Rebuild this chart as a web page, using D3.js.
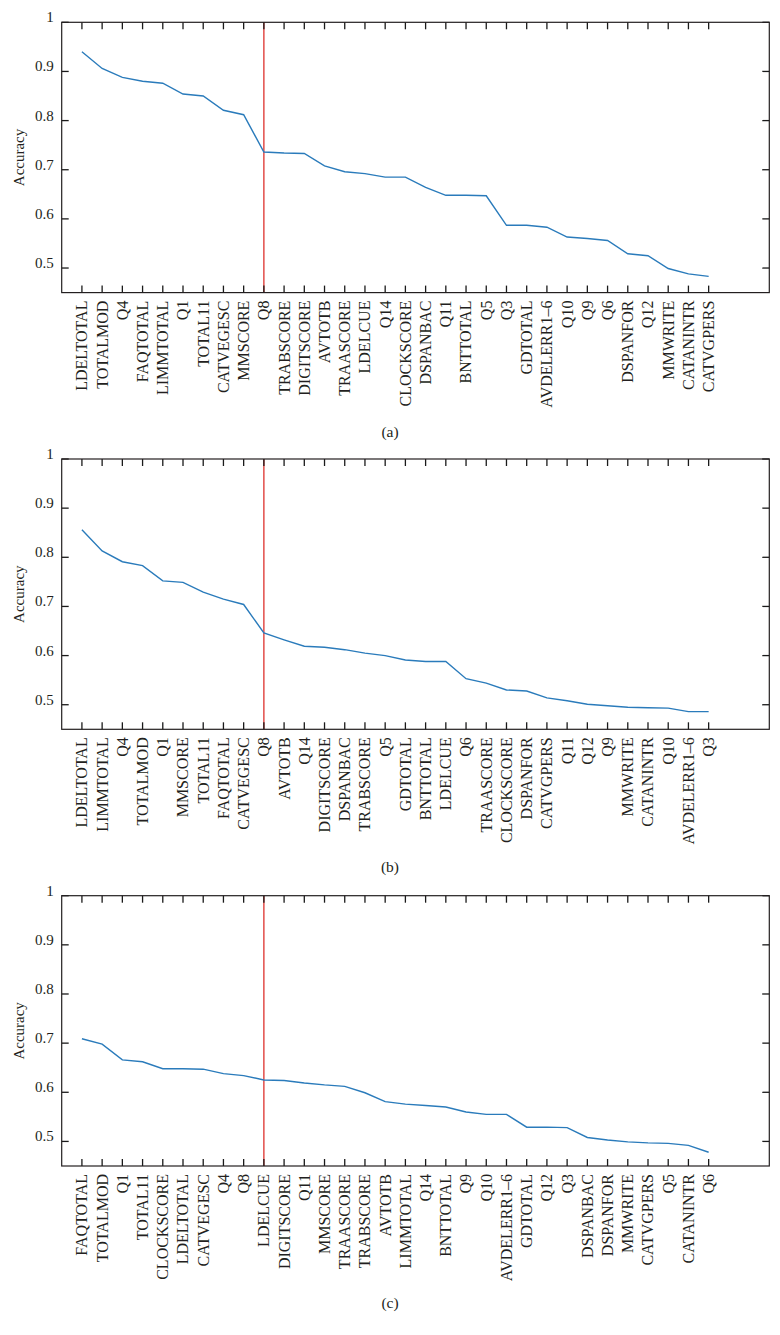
<!DOCTYPE html>
<html>
<head>
<meta charset="utf-8">
<script src="https://cdn.jsdelivr.net/npm/d3@7"></script>
<style>
  html, body { margin: 0; padding: 0; background: #fff; }
  svg { display: block; }
  text { font-family: "Liberation Serif", "DejaVu Serif", serif; fill: #231f20; }
</style>
</head>
<body>
<script>
const catsA = ["LDELTOTAL","TOTALMOD","Q4","FAQTOTAL","LIMMTOTAL","Q1","TOTAL11","CATVEGESC","MMSCORE","Q8","TRABSCORE","DIGITSCORE","AVTOTB","TRAASCORE","LDELCUE","Q14","CLOCKSCORE","DSPANBAC","Q11","BNTTOTAL","Q5","Q3","GDTOTAL","AVDELERR1\u20136","Q10","Q9","Q6","DSPANFOR","Q12","MMWRITE","CATANINTR","CATVGPERS"];
const valsA = [0.940,0.906,0.888,0.880,0.876,0.854,0.850,0.821,0.812,0.736,0.734,0.733,0.708,0.696,0.692,0.685,0.685,0.664,0.648,0.648,0.647,0.587,0.587,0.583,0.563,0.560,0.556,0.529,0.525,0.499,0.488,0.483];

const catsB = ["LDELTOTAL","LIMMTOTAL","Q4","TOTALMOD","Q1","MMSCORE","TOTAL11","FAQTOTAL","CATVEGESC","Q8","AVTOTB","Q14","DIGITSCORE","DSPANBAC","TRABSCORE","Q5","GDTOTAL","BNTTOTAL","LDELCUE","Q6","TRAASCORE","CLOCKSCORE","DSPANFOR","CATVGPERS","Q11","Q12","Q9","MMWRITE","CATANINTR","Q10","AVDELERR1\u20136","Q3"];
const valsB = [0.856,0.813,0.791,0.783,0.752,0.749,0.729,0.715,0.704,0.646,0.632,0.619,0.617,0.612,0.605,0.600,0.591,0.588,0.588,0.553,0.544,0.530,0.528,0.514,0.508,0.501,0.498,0.495,0.494,0.493,0.486,0.486];

const catsC = ["FAQTOTAL","TOTALMOD","Q1","TOTAL11","CLOCKSCORE","LDELTOTAL","CATVEGESC","Q4","Q8","LDELCUE","DIGITSCORE","Q11","MMSCORE","TRAASCORE","TRABSCORE","AVTOTB","LIMMTOTAL","Q14","BNTTOTAL","Q9","Q10","AVDELERR1\u20136","GDTOTAL","Q12","Q3","DSPANBAC","DSPANFOR","MMWRITE","CATVGPERS","Q5","CATANINTR","Q6"];
const valsC = [0.709,0.698,0.666,0.662,0.648,0.648,0.647,0.638,0.634,0.625,0.624,0.619,0.615,0.612,0.599,0.581,0.576,0.573,0.570,0.560,0.555,0.555,0.529,0.529,0.528,0.508,0.503,0.499,0.497,0.496,0.492,0.478];

const yTicks = [0.5, 0.6, 0.7, 0.8, 0.9, 1];
const yTickLabels = ["0.5", "0.6", "0.7", "0.8", "0.9", "1"];
const splitIndex = 9;
const captions = ["(a)", "(b)", "(c)"];
const yLabel = "Accuracy";

const W = 780, H = 1335;
const svg = d3.select("body").append("svg").attr("width", W).attr("height", H);

const panels = [
  { cats: catsA, vals: valsA, top: 22.3, cap: captions[0], capY: 437 },
  { cats: catsB, vals: valsB, top: 459, cap: captions[1], capY: 872 },
  { cats: catsC, vals: valsC, top: 895.7, cap: captions[2], capY: 1308 }
];

const left = 61.7, right = 769.3, ph = 270.3;
const tickLen = 7;

panels.forEach(p => {
  const g = svg.append("g");
  const x = d3.scaleLinear().domain([-1, 34]).range([left, right]);
  const y = d3.scaleLinear().domain([0.45, 1]).range([p.top + ph, p.top]);
  const idx = d3.range(p.cats.length);

  // red split line
  g.append("line")
    .attr("x1", x(splitIndex)).attr("x2", x(splitIndex))
    .attr("y1", y(1)).attr("y2", y(0.45))
    .attr("stroke", "#e0403c").attr("stroke-width", 1.4);

  // data line
  const line = d3.line().x((d, i) => x(i)).y(d => y(d));
  g.append("path").datum(p.vals)
    .attr("d", line).attr("fill", "none")
    .attr("stroke", "#2a7bbb").attr("stroke-width", 1.4);

  // inward ticks on all four sides, from the scales
  const tk = g.append("g").attr("stroke", "#1a1a1a").attr("stroke-width", 1.3);
  tk.selectAll(".tb").data(idx).enter().append("line")
    .attr("x1", d => x(d)).attr("x2", d => x(d))
    .attr("y1", y(0.45)).attr("y2", y(0.45) - tickLen);
  tk.selectAll(".tt").data(idx).enter().append("line")
    .attr("x1", d => x(d)).attr("x2", d => x(d))
    .attr("y1", y(1)).attr("y2", y(1) + tickLen);
  tk.selectAll(".tl").data(yTicks).enter().append("line")
    .attr("x1", left).attr("x2", left + tickLen)
    .attr("y1", d => y(d)).attr("y2", d => y(d));
  tk.selectAll(".tr").data(yTicks).enter().append("line")
    .attr("x1", right).attr("x2", right - tickLen)
    .attr("y1", d => y(d)).attr("y2", d => y(d));

  // frame
  g.append("rect")
    .attr("x", left).attr("y", p.top)
    .attr("width", right - left).attr("height", ph)
    .attr("fill", "none").attr("stroke", "#231f20").attr("stroke-width", 1.2);

  // y tick labels (baseline on tick)
  g.selectAll(".ylab").data(yTicks).enter().append("text")
    .attr("x", left - 8).attr("y", d => y(d))
    .attr("text-anchor", "end")
    .attr("font-size", 15)
    .text((d, i) => yTickLabels[i]);

  // x category labels rotated
  g.selectAll(".xlab").data(p.cats).enter().append("text")
    .attr("transform", (d, i) => `translate(${x(i)},${p.top + ph + 8}) rotate(-90)`)
    .attr("text-anchor", "end")
    .attr("dy", "0.34em")
    .attr("font-size", 16)
    .text(d => d);

  // y axis label
  g.append("text")
    .attr("transform", `translate(24,${p.top + ph / 2}) rotate(-90)`)
    .attr("text-anchor", "middle")
    .attr("font-size", 15)
    .text(yLabel);

  // caption
  g.append("text")
    .attr("x", 390).attr("y", p.capY)
    .attr("text-anchor", "middle")
    .attr("font-size", 15.5)
    .text(p.cap);
});
</script>
</body>
</html>
